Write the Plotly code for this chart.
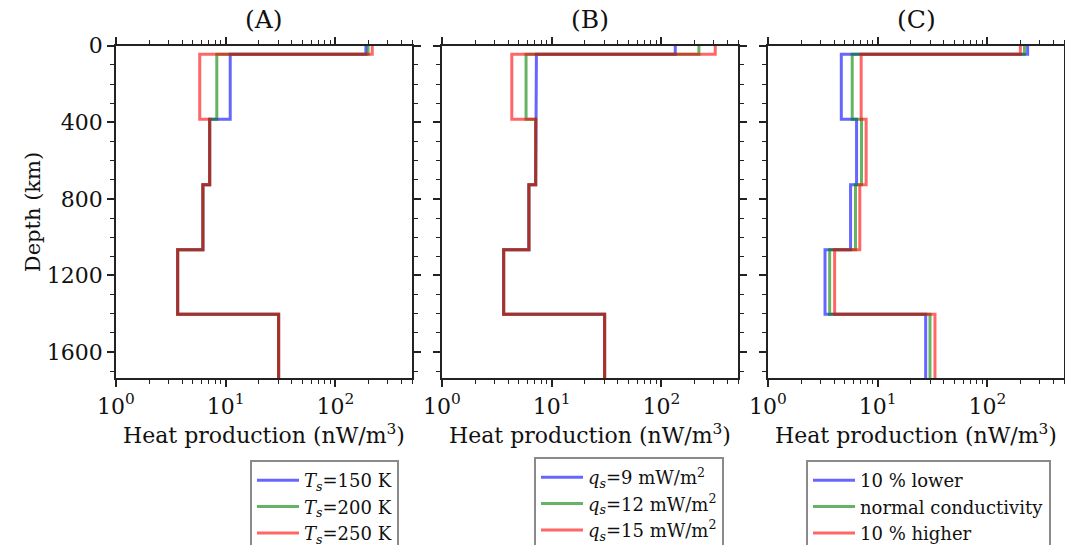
import plotly.graph_objects as go

# ---------------- data ----------------
depth_bounds = [0, 44, 384, 726, 1065, 1403, 1737]   # km, layer boundaries

# common lower layers (panels A and B)
mantle_common = [7.15, 6.2, 3.65, 30.4]

# Panel A : surface temperature
A_labels = ["<i>T</i><sub><i>s</i></sub>=150 K",
            "<i>T</i><sub><i>s</i></sub>=200 K",
            "<i>T</i><sub><i>s</i></sub>=250 K"]
A_top = [190, 199, 217]
A_crust = [11.0, 8.3, 5.8]

# Panel B : surface heat flux
B_labels = ["<i>q</i><sub><i>s</i></sub>=9 mW/m<sup>2</sup>",
            "<i>q</i><sub><i>s</i></sub>=12 mW/m<sup>2</sup>",
            "<i>q</i><sub><i>s</i></sub>=15 mW/m<sup>2</sup>"]
B_top = [134, 220, 310]
B_crust = [7.26, 5.84, 4.33]

# Panel C : conductivity
C_labels = ["10 % lower", "normal conductivity", "10 % higher"]
C_top = [233, 218, 200]
C_crust = [4.66, 5.86, 7.07]
C_layer3 = [6.42, 7.12, 7.85]
C_layer4 = [5.66, 6.28, 6.87]
C_layer5 = [3.31, 3.65, 4.05]
C_layer6 = [27.4, 30.0, 33.3]

colors = ["#0000ff", "#008000", "#ff0000"]
panel_titles = ["(A)", "(B)", "(C)"]

FONT = "DejaVu Serif"
W, H = 1065, 545


def step(values):
    xs, ys = [], []
    for i, v in enumerate(values):
        xs += [v, v]
        ys += [depth_bounds[i], depth_bounds[i + 1]]
    return xs, ys


fig = go.Figure()

panelsA = [[A_top[i], A_crust[i]] + mantle_common for i in range(3)]
panelsB = [[B_top[i], B_crust[i]] + mantle_common for i in range(3)]
panelsC = [[C_top[i], C_crust[i], C_layer3[i], C_layer4[i], C_layer5[i], C_layer6[i]]
           for i in range(3)]

all_panels = [(panelsA, A_labels), (panelsB, B_labels), (panelsC, C_labels)]
for p, (series, labels) in enumerate(all_panels):
    sfx = "" if p == 0 else str(p + 1)
    for i in range(3):
        xs, ys = step(series[i])
        fig.add_trace(go.Scatter(
            x=xs, y=ys, mode="lines", name=labels[i],
            line=dict(color=colors[i], width=3),
            opacity=0.6,
            xaxis="x" + sfx, yaxis="y" + sfx,
            legend="legend" + sfx,
        ))

x_doms = [(116, 412), (442, 738), (768, 1064)]
y_dom = [1 - 378.3 / H, 1 - 45.7 / H]

minor_x = [v * m for m in (1, 10, 100) for v in range(2, 10) if v * m <= 500]
minor_y = [d for d in range(0, 1800, 100) if d % 400 != 0]

axcol = "#222222"
for p in range(3):
    sfx = "" if p == 0 else str(p + 1)
    xa = dict(
        type="log", range=[0, 2.699],
        domain=[x_doms[p][0] / W, x_doms[p][1] / W],
        anchor="y" + sfx, automargin=False,
        showline=True, linecolor=axcol, linewidth=1.6, mirror="ticks",
        ticks="outside", ticklen=7, tickwidth=1.6, tickcolor=axcol,
        tickmode="array", tickvals=[1, 10, 100],
        ticktext=["10<sup>0</sup>", "10<sup>1</sup>", "10<sup>2</sup>"],
        minor=dict(ticks="outside", ticklen=4, tickwidth=1.3, tickcolor=axcol,
                   tickmode="array", tickvals=minor_x, showgrid=False),
        showgrid=False, zeroline=False,
        tickfont=dict(family=FONT, size=22, color="#111"),
        title=dict(text="Heat production (nW/m<sup>3</sup>)",
                   font=dict(family=FONT, size=22, color="#111"), standoff=10),
    )
    ya = dict(
        range=[1737, 0],
        domain=y_dom,
        anchor="x" + sfx, automargin=False,
        showline=True, linecolor=axcol, linewidth=1.6, mirror="ticks",
        ticks="outside", ticklen=7, tickwidth=1.6, tickcolor=axcol,
        tickmode="array", tickvals=[0, 400, 800, 1200, 1600],
        minor=dict(ticks="outside", ticklen=4, tickwidth=1.3, tickcolor=axcol,
                   tickmode="array", tickvals=minor_y, showgrid=False),
        showgrid=False, zeroline=False,
        showticklabels=(p == 0),
        tickfont=dict(family=FONT, size=22, color="#111"),
    )
    if p == 0:
        ya["title"] = dict(text="Depth (km)", font=dict(family=FONT, size=21, color="#111"),
                           standoff=0)
    fig.update_layout(**{"xaxis" + sfx: xa, "yaxis" + sfx: ya})

legend_pos = [(250, 460), (534, 457), (806, 460)]
for p in range(3):
    key = "legend" if p == 0 else "legend" + str(p + 1)
    fig.update_layout(**{key: dict(
        x=legend_pos[p][0] / W, y=1 - legend_pos[p][1] / H,
        xanchor="left", yanchor="top",
        bgcolor="white", bordercolor="#8a8a8a", borderwidth=2,
        font=dict(family=FONT, size=18, color="#111"),
        tracegroupgap=0, itemwidth=42,
    )})

for p in range(3):
    fig.add_annotation(
        x=(x_doms[p][0] + x_doms[p][1]) / 2 / W, y=1 - 19 / H,
        xref="paper", yref="paper", text=panel_titles[p], showarrow=False,
        xanchor="center", yanchor="middle",
        font=dict(family=FONT, size=25, color="#111"),
    )

fig.update_layout(
    width=W, height=H,
    margin=dict(l=0, r=0, t=0, b=0, autoexpand=False),
    plot_bgcolor="white", paper_bgcolor="white",
    showlegend=True,
)

fig.write_html(
    "out.html",
    config={"displayModeBar": False},
    post_script="document.body.style.margin='0';document.body.style.padding='0';"
                "document.body.style.overflow='hidden';",
)
